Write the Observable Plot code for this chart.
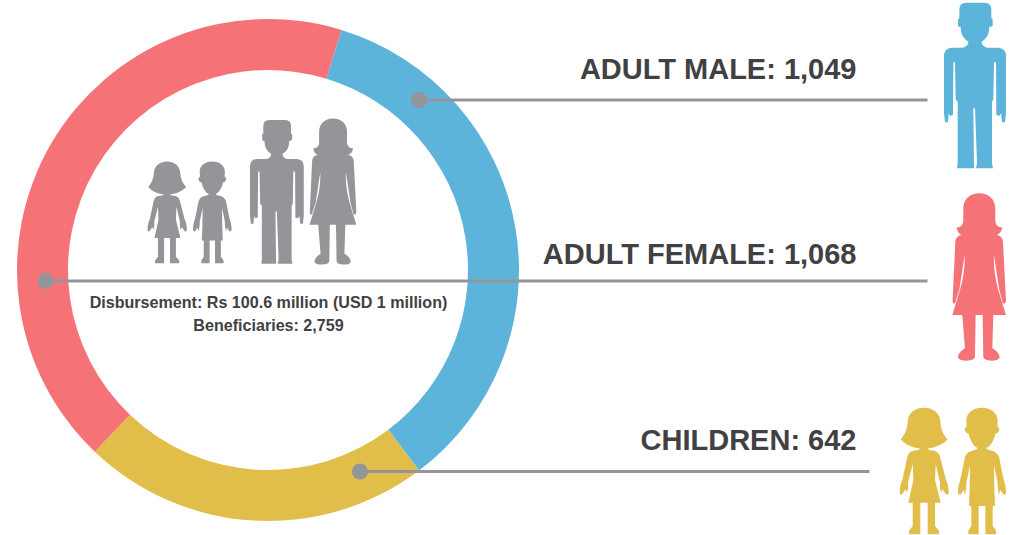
<!DOCTYPE html>
<html>
<head>
<meta charset="utf-8">
<script src="https://cdn.jsdelivr.net/npm/d3@7"></script>
<script src="https://cdn.jsdelivr.net/npm/@observablehq/plot@0.6"></script>
<style>html,body{margin:0;padding:0;background:#fff}</style>
</head>
<body>
<div id="chart"></div>
<script>
const categories = ["ADULT MALE", "CHILDREN", "ADULT FEMALE"];
const labelNames = ["ADULT MALE", "ADULT FEMALE", "CHILDREN"];
const labelValues = [1049, 1068, 642];
const ringShares = [35, 22.4, 42.6];
const ringColors = ["#5CB4DA", "#E1BD49", "#F57377"];
const summaryLines = ["Disbursement: Rs 100.6 million (USD 1 million)", "Beneficiaries: 2,759"];
const lineColor = "#939598", textColor = "#414042";

const manPath = "M118,30 Q118,8 138,8 L194,8 Q214,8 214,30 L214,55 Q219,56 218,62 L218,74 Q218,80 208,81 Q208,112 185,125 L185,129 Q190,142 203,143 L235,143 Q258,145 258,168 L258,340 L255,367 L246,367 L243,340 L238,348 L229,345 L228,190 Q225,183 222,187 L220,298 L216,305 L216,490 L219,505 L168,505 L171,490 L165,325 L160,325 L162,490 L163,505 L111,505 L113,490 L113,305 L107,298 L105,187 Q102,183 100,190 L99,345 L90,348 L86,340 L84,367 L75,367 L72,340 L72,168 Q72,145 95,143 L127,143 Q140,142 145,129 L145,125 Q122,112 122,81 Q113,80 114,74 L114,62 Q113,56 118,55 Z";
const womanPath = "M148,25 C178,25 196,45 196,70 L196,108 C198,122 205,127 217,127 C215,140 208,147 200,150 C213,152 218,160 219,172 L228,345 Q228,355 222,356 Q217,355 216,345 L208,315 L192,210 Q190,262 205,315 L228,390 L190,390 L187,490 C198,496 208,505 209,517 Q206,527 185,527 Q160,526 160,515 L158,390 L137,390 L135,515 Q135,526 110,527 Q87,527 84,517 C85,505 95,496 105,490 L97,390 L67,390 L90,315 Q106,262 104,210 L88,315 L78,345 Q78,355 72,356 Q67,355 68,345 L76,172 C77,160 82,152 95,150 C87,147 82,140 80,127 C92,127 98,122 100,108 L100,70 C100,45 118,25 148,25 Z";
const girlPath = "M102,23 C132,23 150,42 151,65 C152,85 160,105 173,118 C160,133 135,144 115,145 L115,149 L133,152 Q145,155 150,170 L168,240 C174,250 176,268 176,278 Q174,287 168,283 L157,268 L153,278 Q148,262 150,248 L137,192 L135,240 L152,308 L135,308 L135,378 L147,392 L147,403 L113,403 L113,308 L91,308 L91,403 L57,403 L57,392 L68,378 L68,308 L55,308 L70,240 L68,192 L54,248 Q56,262 51,278 L47,268 L36,283 Q30,287 29,278 C29,268 31,250 37,240 L52,170 Q56,155 70,152 L88,149 L88,145 C68,144 44,133 32,118 C44,105 52,85 53,65 C54,42 72,23 102,23 Z";
const boyPath = "M276,23 C305,23 323,40 323,62 Q322,72 322,80 Q330,82 327,92 Q324,100 316,101 C311,125 298,141 290,143 L290,147 L305,152 Q320,155 327,170 L340,235 C345,250 349,268 348,278 Q346,287 340,283 L331,270 L327,284 Q322,262 323,248 L312,195 L313,262 L315,318 L308,318 L308,378 L318,392 L318,403 L286,403 L286,318 L266,318 L266,403 L235,403 L235,392 L244,378 L244,318 L237,318 L239,262 L240,195 L229,248 Q230,262 225,284 L221,270 L212,283 Q206,287 204,278 C203,268 207,250 212,235 L225,170 Q232,155 247,152 L262,147 L262,143 C254,141 241,125 236,101 Q228,100 225,92 Q222,82 230,80 Q230,72 229,62 C229,40 247,23 276,23 Z";

const iconDefs = [
  {path: manPath,   ox: 72,  oy: 8,  px: 944,    py: 2.7,   s: 1/3,   fill: "#5CB4DA"},
  {path: womanPath, ox: 67,  oy: 25, px: 952.3,  py: 193.3, s: 1/3,   fill: "#F57377"},
  {path: girlPath,  ox: 29,  oy: 23, px: 899.7,  py: 407.7, s: 1/3,   fill: "#E1BD49"},
  {path: boyPath,   ox: 204, oy: 23, px: 958,    py: 407.7, s: 1/3,   fill: "#E1BD49"},
  {path: manPath,   ox: 72,  oy: 8,  px: 250,    py: 120,   s: 0.289, fill: lineColor},
  {path: womanPath, ox: 67,  oy: 25, px: 309.5,  py: 118.5, s: 0.291, fill: lineColor},
  {path: girlPath,  ox: 29,  oy: 23, px: 147.5,  py: 161.5, s: 0.268, fill: lineColor},
  {path: boyPath,   ox: 204, oy: 23, px: 193,    py: 161.5, s: 0.268, fill: lineColor}
];

const leaders = [
  {x1: 418.5, x2: 927, y: 99.5},
  {x1: 45,    x2: 927, y: 280.5},
  {x1: 359.5, x2: 869, y: 471}
];
const labelY = [69, 254, 440];
const summaryY = [302, 325];
const center = {x: 268, y: 270}, outerR = 251, innerR = 200, startDeg = 17;

function ring(index, {x, y}) {
  const g = d3.create("svg:g").attr("transform", `translate(${x(center.x)},${y(center.y)})`);
  const pie = d3.pie().sort(null).startAngle(startDeg * Math.PI / 180).endAngle((startDeg + 360) * Math.PI / 180);
  const arc = d3.arc().innerRadius(x(innerR) - x(0)).outerRadius(x(outerR) - x(0));
  g.selectAll("path").data(pie(ringShares)).join("path")
    .attr("d", arc).attr("fill", (d, i) => ringColors[i]);
  return g.node();
}
function icons(index, {x, y}) {
  const g = d3.create("svg:g");
  g.selectAll("path").data(iconDefs).join("path")
    .attr("d", d => d.path)
    .attr("fill", d => d.fill)
    .attr("transform", d => `translate(${x(d.px)},${y(d.py)}) scale(${d.s}) translate(${-d.ox},${-d.oy})`);
  return g.node();
}

const fmt = d3.format(",");
const labels = labelNames.map((n, i) => ({text: `${n}: ${fmt(labelValues[i])}`, y: labelY[i]}));
const summary = summaryLines.map((t, i) => ({text: t, y: summaryY[i]}));
const font = "Liberation Sans, Arial, sans-serif";

const chart = Plot.plot({
  width: 1013, height: 535,
  margin: 0,
  x: {domain: [0, 1013], range: [0, 1013], axis: null},
  y: {domain: [0, 535], range: [0, 535], axis: null},
  style: {background: "transparent", fontFamily: font},
  marks: [
    ring,
    icons,
    Plot.link(leaders, {x1: "x1", x2: "x2", y1: "y", y2: "y", stroke: lineColor, strokeWidth: 3}),
    Plot.dot(leaders, {x: "x1", y: "y", r: 8, fill: lineColor, stroke: "none"}),
    Plot.text(labels, {x: 856, y: "y", text: "text", textAnchor: "end", fontSize: 29, fontWeight: 700, fill: textColor, fontFamily: font}),
    Plot.text(summary, {x: 268, y: "y", text: "text", textAnchor: "middle", fontSize: 16.1, fontWeight: 700, fill: textColor, fontFamily: font})
  ]
});
document.getElementById("chart").appendChild(chart);
</script>
</body>
</html>
